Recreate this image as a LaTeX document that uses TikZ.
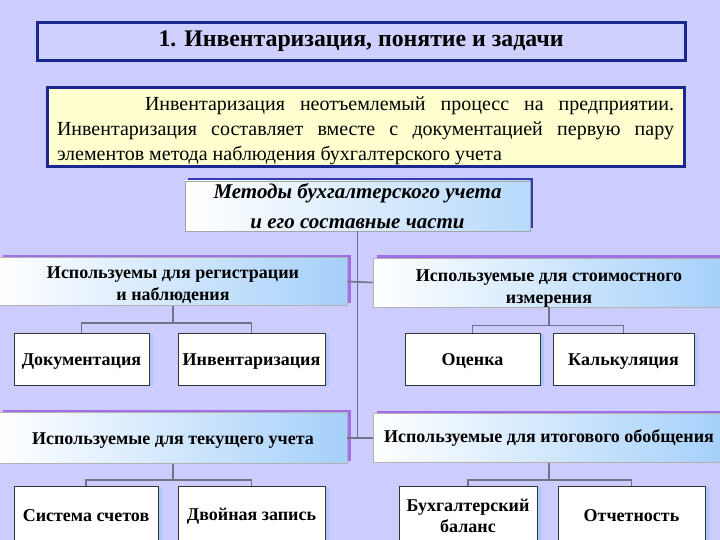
\documentclass[tikz,border=0pt]{standalone}
\usepackage{fontspec}
\setmainfont{Liberation Serif}
\usetikzlibrary{shadows}
\definecolor{bgcol}{RGB}{204,204,255}
\definecolor{titlefill}{RGB}{208,208,255}
\definecolor{darkblue}{RGB}{24,40,140}
\definecolor{paperyel}{RGB}{255,255,208}
\definecolor{rowpurple}{RGB}{160,110,230}
\definecolor{methblue}{RGB}{50,60,180}
\definecolor{lightblue}{RGB}{165,208,250}
\definecolor{connray}{RGB}{115,115,135}
\definecolor{glow}{RGB}{170,200,255}
\begin{document}
\begin{tikzpicture}[x=1pt,y=-1pt,
  titlebox/.style={draw=darkblue, line width=3pt, fill=titlefill, inner sep=0pt,
    font=\bfseries\fontsize{23.8}{26}\selectfont},
  parabox/.style={draw=darkblue, line width=3pt, fill=paperyel, inner xsep=10pt, inner ysep=0pt,
    align=justify, text width=617pt, font=\fontsize{20}{25}\selectfont},
  methbox/.style={draw=gray!70, line width=0.6pt, left color=white, right color=lightblue!80,
    general shadow={fill=methblue, shadow xshift=3pt, shadow yshift=3pt},
    inner sep=0pt, align=center, font=\bfseries\itshape\fontsize{21}{30}\selectfont},
  rowbox/.style={draw=gray!60, line width=0.6pt, left color=white, right color=lightblue,
    general shadow={fill=rowpurple, shadow xshift=4pt, shadow yshift=3pt},
    inner sep=0pt, align=center, font=\bfseries\fontsize{18}{22}\selectfont},
  subbox/.style={draw=black!80, line width=0.7pt, fill=white,
    general shadow={fill=glow, shadow xshift=4pt, shadow yshift=-1pt},
    inner sep=0pt, align=center, font=\bfseries\fontsize{18}{21}\selectfont},
  conn/.style={draw=connray, line width=1.6pt}
]
\useasboundingbox (0,0) rectangle (720,540);
\clip (0,0) rectangle (720,540);
\fill[bgcol] (0,0) rectangle (720,540);

\node[titlebox, minimum width=648pt, minimum height=38pt] (title) at (361,41.5)
  {1. Инвентаризация, понятие и задачи};
\node[parabox, minimum height=79pt] (para) at (365.5,127.5)
  {\rule{0pt}{21pt}\hspace*{88pt}Инвентаризация неотъемлемый процесс на предприятии.\linebreak
   Инвентаризация составляет вместе с документацией первую пару\linebreak
   элементов метода наблюдения бухгалтерского учета};

\node[methbox, minimum width=345pt, minimum height=50pt] (meth) at (357.5,206)
  {Методы бухгалтерского учета\\и его составные части};

\node[rowbox, minimum width=348pt, minimum height=48pt, text height=41pt] (r1l) at (173,281.5)
  {Используемы для регистрации\\и наблюдения};
\node[rowbox, minimum width=352pt, minimum height=49pt, text height=45pt] (r1r) at (549,282.5)
  {Используемые для стоимостного\\измерения};
\node[rowbox, minimum width=348pt, minimum height=51pt, text height=16pt] (r2l) at (173,438)
  {Используемые для текущего учета};
\node[rowbox, minimum width=352pt, minimum height=49pt] (r2r) at (549,438)
  {Используемые для итогового обобщения};

\node[subbox, minimum width=135pt, minimum height=52pt, text height=16pt] (doc) at (81.5,359) {Документация};
\node[subbox, minimum width=147pt, minimum height=52pt, text height=16pt] (inv) at (251.5,359) {Инвентаризация};
\node[subbox, minimum width=135pt, minimum height=52pt, text height=16pt] (ots) at (472.5,359) {Оценка};
\node[subbox, minimum width=141pt, minimum height=52pt, text height=16pt] (kal) at (623.5,359) {Калькуляция};

\node[subbox, minimum width=144pt, minimum height=60pt] (sch) at (86,516) {Система счетов};
\node[subbox, minimum width=147pt, minimum height=60pt] (dvz) at (251.5,516) {Двойная запись};
\node[subbox, minimum width=138pt, minimum height=60pt] (bal) at (468,516) {Бухгалтерский\\баланс};
\node[subbox, minimum width=147pt, minimum height=60pt] (otc) at (631.5,516) {Отчетность};

% main trunk
\draw[conn] (meth.south) -- (meth.south |- r2l.east);
\draw[conn] (r1l.east) -- (r1r.west);
\draw[conn] (r2l.east) -- (r2r.west);

% branches
\path (r1l.south) ++(0,17) coordinate (j1);
\draw[conn] (r1l.south) -- (j1);
\draw[conn] (doc.north) |- (j1) -| (inv.north);
\path (r1r.south) ++(0,18) coordinate (j2);
\draw[conn] (r1r.south) -- (j2);
\draw[conn] (ots.north) |- (j2) -| (kal.north);
\path (r2l.south) ++(0,16) coordinate (j3);
\draw[conn] (r2l.south) -- (j3);
\draw[conn] (sch.north) |- (j3) -| (dvz.north);
\path (r2r.south) ++(0,17) coordinate (j4);
\draw[conn] (r2r.south) -- (j4);
\draw[conn] (bal.north) |- (j4) -| (otc.north);
\end{tikzpicture}
\end{document}
